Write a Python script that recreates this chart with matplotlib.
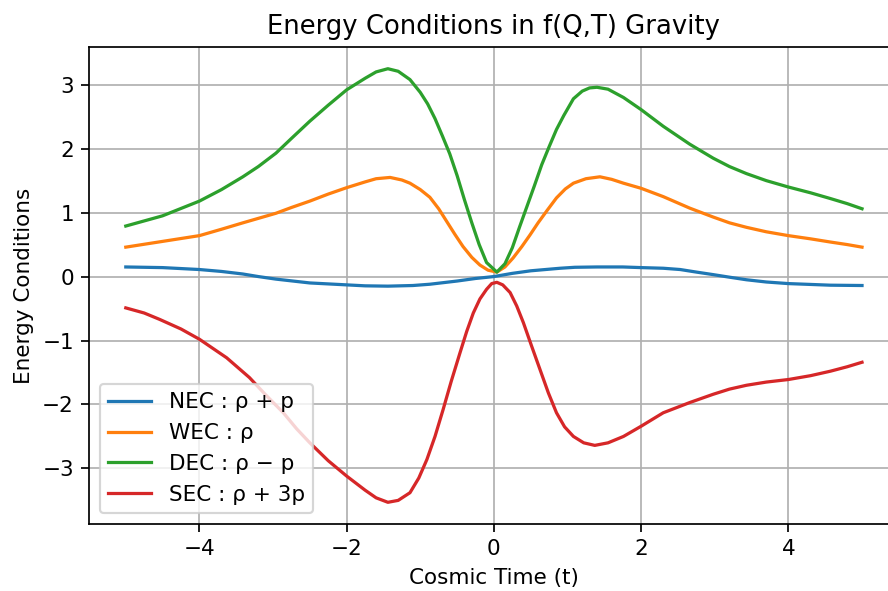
import matplotlib
matplotlib.use("Agg")
import matplotlib.pyplot as plt

# values
nec_t = [-5.0, -4.5, -4.0, -3.7, -3.41, -3.2, -2.96, -2.5, -2.0, -1.75, -1.44,
         -1.1, -0.87, -0.5, -0.25, 0.0, 0.25, 0.5, 0.9, 1.1, 1.4, 1.75, 2.0,
         2.3, 2.53, 2.75, 2.98, 3.2, 3.43, 3.7, 4.0, 4.57, 5.0]
nec = [0.15, 0.14, 0.11, 0.08, 0.04, 0.0, -0.04, -0.10, -0.13, -0.145, -0.15,
       -0.14, -0.12, -0.07, -0.03, 0.0, 0.05, 0.09, 0.13, 0.145, 0.15, 0.15, 0.14,
       0.13, 0.11, 0.07, 0.03, -0.01, -0.05, -0.085, -0.11, -0.135, -0.14]

wec_t = [-5.0, -4.5, -4.0, -3.7, -3.41, -3.2, -2.96, -2.75, -2.5, -2.25, -2.0,
         -1.75, -1.6, -1.41, -1.25, -1.14, -1.0, -0.87, -0.75, -0.64, -0.53,
         -0.42, -0.3, -0.19, -0.08, 0.04, 0.15, 0.26, 0.38, 0.49, 0.6, 0.72,
         0.85, 0.97, 1.08, 1.25, 1.44, 1.6, 1.76, 2.0, 2.3, 2.66, 2.98, 3.2,
         3.43, 3.7, 4.0, 4.3, 4.57, 4.8, 5.0]
wec = [0.46, 0.55, 0.64, 0.74, 0.84, 0.91, 0.99, 1.08, 1.18, 1.29, 1.39,
       1.48, 1.53, 1.55, 1.51, 1.46, 1.36, 1.24, 1.06, 0.86, 0.66,
       0.47, 0.30, 0.18, 0.10, 0.07, 0.15, 0.29, 0.47, 0.65, 0.84, 1.03,
       1.23, 1.37, 1.46, 1.53, 1.56, 1.52, 1.46, 1.38, 1.25, 1.07, 0.93, 0.84,
       0.77, 0.70, 0.64, 0.59, 0.54, 0.50, 0.46]

dec_t = [-5.0, -4.5, -4.0, -3.7, -3.41, -3.2, -2.96, -2.75, -2.5, -2.25, -2.0,
         -1.75, -1.6, -1.44, -1.3, -1.14, -1.0, -0.9, -0.8, -0.7, -0.6, -0.5,
         -0.4, -0.3, -0.2, -0.1, 0.04, 0.15, 0.25, 0.35, 0.45, 0.55, 0.65,
         0.75, 0.85, 0.95, 1.08, 1.2, 1.3, 1.4, 1.55, 1.76, 2.0, 2.3, 2.66,
         2.98, 3.2, 3.43, 3.7, 4.0, 4.3, 4.57, 4.8, 5.0]
dec = [0.79, 0.95, 1.18, 1.36, 1.56, 1.72, 1.93, 2.16, 2.43, 2.68, 2.92,
       3.10, 3.20, 3.25, 3.21, 3.08, 2.88, 2.70, 2.47, 2.20, 1.92, 1.58,
       1.20, 0.84, 0.50, 0.22, 0.07, 0.20, 0.45, 0.78, 1.10, 1.42, 1.75,
       2.03, 2.30, 2.52, 2.78, 2.90, 2.95, 2.96, 2.93, 2.80, 2.61, 2.35, 2.07,
       1.85, 1.72, 1.61, 1.50, 1.40, 1.31, 1.22, 1.14, 1.06]

sec_t = [-5.0, -4.75, -4.54, -4.25, -4.0, -3.63, -3.32, -3.1, -2.86, -2.68, -2.5,
         -2.25, -2.0, -1.75, -1.6, -1.44, -1.3, -1.14, -1.02, -0.91, -0.8, -0.69,
         -0.58, -0.46, -0.37, -0.28, -0.19, -0.10, -0.03, 0.04, 0.12, 0.22, 0.31,
         0.40, 0.51, 0.625, 0.74, 0.85, 0.96, 1.08, 1.22, 1.37, 1.55, 1.76, 2.0,
         2.3, 2.66, 2.98, 3.2, 3.43, 3.7, 4.0, 4.3, 4.57, 4.8, 5.0]
sec = [-0.49, -0.57, -0.67, -0.82, -0.98, -1.27, -1.58, -1.85, -2.13, -2.38, -2.60,
       -2.88, -3.12, -3.34, -3.46, -3.53, -3.50, -3.38, -3.15, -2.86, -2.50, -2.08,
       -1.64, -1.19, -0.86, -0.57, -0.35, -0.20, -0.11, -0.09, -0.13, -0.25, -0.46,
       -0.72, -1.08, -1.45, -1.82, -2.13, -2.35, -2.50, -2.60, -2.64, -2.60, -2.50, -2.34,
       -2.13, -1.97, -1.84, -1.76, -1.70, -1.65, -1.61, -1.55, -1.48, -1.41, -1.34]

fig = plt.figure(figsize=(888 / 155, 591 / 155), dpi=155)
ax = fig.add_axes([0.1002, 0.1134, 0.912, 0.807])

ax.plot(nec_t, nec, label='NEC : ρ + p')
ax.plot(wec_t, wec, label='WEC : ρ')
ax.plot(dec_t, dec, label='DEC : ρ − p')
ax.plot(sec_t, sec, label='SEC : ρ + 3p')

ax.set_title('Energy Conditions in f(Q,T) Gravity')
ax.set_xlabel('Cosmic Time (t)')
ax.set_ylabel('Energy Conditions')
ax.legend(loc='lower left')
ax.grid(True)

fig.savefig('out.png', dpi=155)
